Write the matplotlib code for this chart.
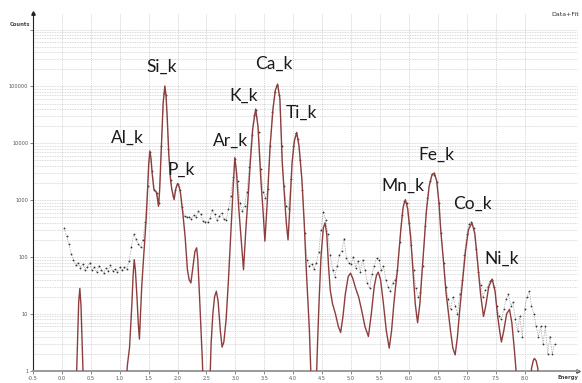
import matplotlib.pyplot as plt
import numpy as np
from matplotlib.ticker import FixedLocator, NullFormatter

# fitted curve (keV, counts); < 1 means off the bottom
fit_energy = [0.24, 0.27, 0.29, 0.31, 0.33, 0.35, 0.38,
              1.10, 1.13, 1.17, 1.21, 1.23, 1.25, 1.27, 1.30, 1.32, 1.34, 1.36, 1.38, 1.41, 1.44,
              1.46, 1.48, 1.50, 1.52, 1.54, 1.56, 1.59, 1.63, 1.65, 1.67, 1.69, 1.71, 1.73, 1.75,
              1.78, 1.80, 1.82, 1.85, 1.88, 1.90, 1.94, 1.97, 2.00, 2.03, 2.05, 2.09, 2.13, 2.17,
              2.20, 2.23, 2.26, 2.30, 2.33, 2.35, 2.38, 2.41, 2.43, 2.45, 2.55, 2.58, 2.61, 2.64,
              2.67, 2.70, 2.74, 2.77, 2.80, 2.84, 2.88, 2.92, 2.96, 2.99, 3.02, 3.06, 3.10, 3.14,
              3.18, 3.22, 3.26, 3.30, 3.35, 3.39, 3.44, 3.48, 3.51, 3.55, 3.60, 3.65, 3.69, 3.73,
              3.77, 3.81, 3.85, 3.88, 3.91, 3.94, 3.98, 4.02, 4.06, 4.10, 4.15, 4.19, 4.22, 4.25,
              4.28, 4.31, 4.34, 4.39, 4.42, 4.45, 4.48, 4.52, 4.55, 4.58, 4.61, 4.64, 4.68, 4.73,
              4.78, 4.82, 4.86, 4.90, 4.95, 4.99, 5.03, 5.08, 5.13, 5.18, 5.24, 5.30, 5.35, 5.40,
              5.44, 5.47, 5.51, 5.56, 5.61, 5.66, 5.70, 5.74, 5.77, 5.80, 5.83, 5.86, 5.90, 5.94,
              5.98, 6.03, 6.07, 6.11, 6.15, 6.19, 6.23, 6.26, 6.30, 6.35, 6.40, 6.44, 6.48, 6.52,
              6.55, 6.60, 6.64, 6.67, 6.72, 6.76, 6.80, 6.84, 6.88, 6.93, 6.98, 7.03, 7.09, 7.14,
              7.19, 7.24, 7.29, 7.33, 7.38, 7.44, 7.49, 7.53, 7.57, 7.60, 7.64, 7.69, 7.74, 7.78,
              7.82, 7.85, 7.88, 8.10, 8.12, 8.15, 8.17, 8.20, 8.23, 8.26]
fit_counts = [0.3, 3, 16, 28, 14, 3, 0.3,
              0.3, 1.2, 2.6, 15, 45, 90, 60, 18, 7, 3.6, 10, 30, 90, 250,
              520, 1400, 4200, 7300, 5500, 3000, 1550, 1400, 1100, 780, 1500, 5000, 18000, 50000,
              102000, 70000, 30000, 5900, 2200, 1550, 1020, 1600, 1960, 1700, 1350, 600, 230, 60,
              40, 35, 60, 125, 145, 90, 20, 4, 1.4, 0.3, 0.3, 3, 10, 20,
              25, 17, 5, 2.6, 3.2, 8, 40, 250, 1600, 5600, 3000, 680, 200, 60,
              300, 1170, 5000, 18000, 40000, 20000, 2300, 600, 190, 900, 8900, 40000, 85000, 110000,
              60000, 4500, 1100, 400, 200, 700, 4500, 11000, 15500, 9000, 2300, 400, 78, 20,
              5, 0.6, 0.3, 0.3, 3, 20, 100, 320, 400, 250, 70, 26, 15, 10,
              6, 4.7, 9, 22, 45, 52, 42, 28, 20, 12, 6, 4, 10, 30,
              48, 54, 40, 15, 5, 2.5, 5, 15, 30, 56, 130, 300, 750, 1020,
              700, 230, 60, 15, 7, 15, 60, 155, 600, 1750, 2800, 3000, 2200, 900,
              300, 80, 25, 13.5, 5, 2.5, 1.9, 4, 12, 40, 130, 300, 400, 260,
              78, 22, 9, 14, 30, 41, 25, 10, 5, 3.2, 5, 10, 12, 7,
              2.6, 1.1, 0.3, 0.3, 1.1, 1.5, 1.65, 1.5, 1.1, 0.3]

# measured spectrum, one value per 0.04 keV channel starting at 0.04 keV
data_start = 0.04
data_step = 0.04
data_counts = [320, 230, 170, 115, 90, 72, 80, 65, 74, 60,
               68, 78, 58, 66, 55, 70, 60, 52, 64, 57,
               72, 56, 62, 54, 68, 58, 66, 62, 85, 150,
               250, 210, 170, 150, 200, 420, 1800, 7000, 3200, 1500,
               1350, 900, 9000, 75000, 72000, 8000, 2300, 1200, 1500, 1900,
               1500, 750, 520, 500, 510, 470, 540, 500, 640, 560,
               430, 420, 410, 480, 670, 560, 440, 520, 600, 470,
               440, 700, 1200, 2500, 5200, 2200, 900, 650, 800, 1400,
               3800, 14000, 32000, 38000, 16000, 3500, 1400, 1100, 1600, 9000,
               36000, 80000, 105000, 70000, 9000, 1800, 800, 700, 2400, 9000,
               15000, 12000, 5000, 1500, 260, 90, 70, 75, 62, 80,
               120, 300, 620, 450, 250, 110, 60, 45, 70, 110,
               130, 210, 95, 80, 75, 100, 65, 85, 55, 90,
               60, 35, 28, 50, 70, 95, 90, 60, 70, 40,
               30, 25, 35, 40, 60, 180, 550, 950, 900, 400,
               160, 60, 28, 20, 24, 70, 350, 1100, 2200, 2900,
               2800, 2100, 900, 260, 80, 30, 18, 12, 20, 14,
               10, 22, 40, 110, 250, 380, 420, 320, 140, 55,
               32, 20, 26, 30, 38, 40, 30, 14, 9, 8,
               12, 18, 22, 14, 16, 8, 5, 9, 4, 12,
               20, 25, 14, 10, 6, 4, 6, 3, 6, 2,
               4, 2, 3]
data_energy = data_start + data_step * np.arange(len(data_counts))

peak_names = ['Al_k', 'Si_k', 'P_k', 'Ar_k', 'K_k', 'Ca_k', 'Ti_k',
              'Mn_k', 'Fe_k', 'Co_k', 'Ni_k']
label_x = [1.14, 1.73, 2.06, 2.91, 3.15, 3.67, 4.14, 5.90, 6.47, 7.10, 7.61]
label_y = [12600, 218000, 3470, 11200, 67000, 246000, 35000, 1800, 6350, 870, 93]

x_ticks = np.arange(-0.5, 8.01, 0.5)
y_ticks = [1, 10, 100, 1000, 10000, 100000, 1000000]
y_labels = ['1', '10', '100', '1000', '10000', '100000', '']

fig = plt.figure(figsize=(5.82, 3.83), dpi=100)
ax = fig.add_axes([0.0567, 0.032, 0.937, 0.934])

ax.set_yscale('log')
ax.set_xlim(-0.5, 8.93)
ax.set_ylim(1, 1.95e6)

ax.plot(data_energy, data_counts, ls=(0, (0.8, 1.6)), lw=0.5, color='#6a6a6a',
        marker='o', ms=1.3, mec='none', mfc='#333333', zorder=2)
ax.plot(fit_energy, fit_counts, color='#8e3d3d', lw=1.0, zorder=3)

for name, xx, yy in zip(peak_names, label_x, label_y):
    ax.text(xx, yy, name, ha='center', va='center', fontsize=12.5,
            family='Lato', color='#1a1a1a')

ax.set_xticks(x_ticks)
ax.set_xticklabels(['%.1f' % t for t in x_ticks])
ax.set_yticks(y_ticks)
ax.set_yticklabels(y_labels)
minor = [m * 10 ** d for d in range(6) for m in range(2, 10)]
ax.yaxis.set_minor_locator(FixedLocator(minor))
ax.yaxis.set_minor_formatter(NullFormatter())
ax.tick_params(axis='both', which='major', labelsize=3.6, labelcolor='#555555',
               length=2, width=0.5, color='#555555', pad=1.5)
ax.tick_params(axis='y', which='minor', length=0)

ax.grid(axis='y', which='both', color='#c4c4c4', lw=0.5, ls=(0, (1.2, 1.2)))
ax.grid(axis='x', which='major', color='#c4c4c4', lw=0.5, ls=(0, (1.5, 1.5)))
ax.set_axisbelow(True)

for s in ['top', 'right']:
    ax.spines[s].set_visible(False)
ax.spines['left'].set_color('#222222')
ax.spines['left'].set_linewidth(0.8)
ax.spines['bottom'].set_color('#9a9a9a')
ax.spines['bottom'].set_linewidth(1.4)

# axis arrow heads
ax.plot([0], [1], marker='^', ms=2.5, color='#222222', transform=ax.transAxes, clip_on=False)
ax.plot([1], [0], marker='>', ms=2.5, color='#555555', transform=ax.transAxes, clip_on=False)

fig.text(20 / 582, 1 - 24 / 383, 'Counts', fontsize=3.8, fontweight='bold',
         color='#444444', ha='center', va='center')
fig.text(578 / 582, 1 - 377 / 383, 'Energy', fontsize=3.8, fontweight='bold',
         color='#444444', ha='right', va='center')
fig.text(551 / 582, 1 - 14 / 383, 'Data+Fit', fontsize=4.5,
         color='#333333', ha='left', va='center')

fig.savefig('out.png', dpi=100)
